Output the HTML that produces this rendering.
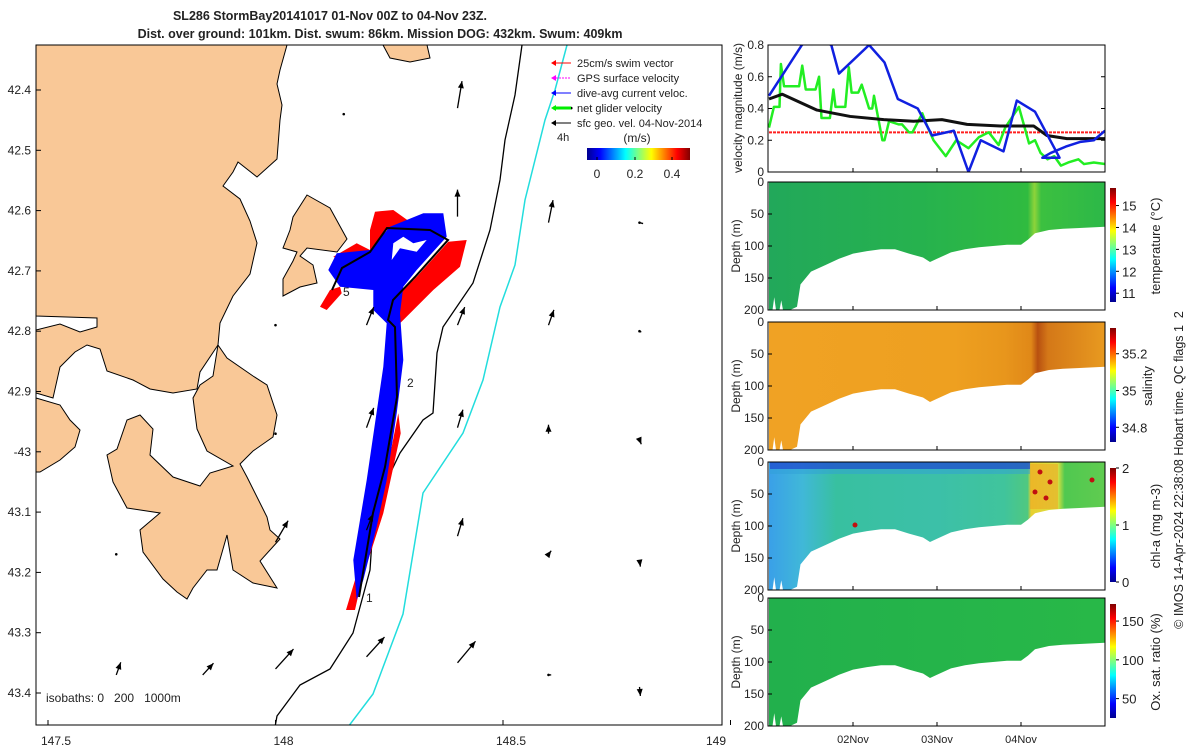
<!DOCTYPE html>
<html><head><meta charset="utf-8">
<style>
body{margin:0;background:#fff;}
svg{display:block;font-family:"Liberation Sans",sans-serif;}
text{fill:#222;}
</style></head>
<body>
<svg id="s" width="1200" height="750" viewBox="0 0 1200 750">
<defs>
<linearGradient id="jetH" x1="0" x2="1" y1="0" y2="0">
<stop offset="0" stop-color="#00008f"/><stop offset=".125" stop-color="#0000ff"/><stop offset=".375" stop-color="#00ffff"/><stop offset=".625" stop-color="#ffff00"/><stop offset=".875" stop-color="#ff0000"/><stop offset="1" stop-color="#800000"/></linearGradient>
<linearGradient id="jetV" x1="0" x2="0" y1="1" y2="0">
<stop offset="0" stop-color="#00008f"/><stop offset=".125" stop-color="#0000ff"/><stop offset=".375" stop-color="#00ffff"/><stop offset=".625" stop-color="#ffff00"/><stop offset=".875" stop-color="#ff0000"/><stop offset="1" stop-color="#800000"/></linearGradient>
<linearGradient id="gTemp" x1="0" x2="1"><stop offset="0" stop-color="#22a85a"/><stop offset=".45" stop-color="#26b24e"/><stop offset=".77" stop-color="#30bb40"/><stop offset=".79" stop-color="#8ed43a"/><stop offset=".81" stop-color="#3cc040"/><stop offset="1" stop-color="#2cb848"/></linearGradient>
<linearGradient id="gSal" x1="0" x2="1"><stop offset="0" stop-color="#f0a224"/><stop offset=".55" stop-color="#eea020"/><stop offset=".7" stop-color="#e8961c"/><stop offset=".78" stop-color="#e08818"/><stop offset=".8" stop-color="#b85010"/><stop offset=".83" stop-color="#d47818"/><stop offset="1" stop-color="#e89a20"/></linearGradient>
<linearGradient id="gChl" x1="0" x2="1"><stop offset="0" stop-color="#3aa0e8"/><stop offset=".1" stop-color="#40b8d8"/><stop offset=".2" stop-color="#38c0a0"/><stop offset=".5" stop-color="#3cc0a8"/><stop offset=".7" stop-color="#40c49c"/><stop offset=".77" stop-color="#50c880"/><stop offset=".78" stop-color="#e8d030"/><stop offset=".86" stop-color="#d8e040"/><stop offset=".88" stop-color="#50c850"/><stop offset="1" stop-color="#60cc50"/></linearGradient>
<linearGradient id="gOx" x1="0" x2="1"><stop offset="0" stop-color="#22b04c"/><stop offset="1" stop-color="#28b848"/></linearGradient>
<clipPath id="mapClip"><rect x="36" y="45" width="686" height="680"/></clipPath>
<clipPath id="velClip"><rect x="768" y="45" width="337" height="127"/></clipPath>
</defs>
<g id="root"></g>
</svg>
<script>
// ---------- data ----------
const velHours = [0,9.4,12,17.8,20,28.6,33,36.8,42.5,46.6,52.8,57,60.5,67,70.8,76,83,78.1,80.5,84.8,89,92.8,96];
const velBlue  = [0.48,0.8,0.85,0.8,0.62,0.8,0.69,0.46,0.40,0.23,0.26,0.0,0.2,0.13,0.45,0.38,0.09,0.09,0.12,0.16,0.19,0.2,0.26];
const greenHours = [0,1.4,3,3.4,4.3,8.6,9.5,10.5,13.3,14.3,15,17.4,18.4,19,21.8,22.8,23.6,25.5,26.5,28.6,29.5,30,32.4,33,34.3,37,38,40,41,43.8,45,47,50.5,53.5,57,60,62.8,65.6,67.5,71.4,74.3,76,77.6,79.6,81.5,83.4,85.5,88.4,90,92.8,96];
const velGreen = [0.28,0.41,0.41,0.68,0.54,0.54,0.67,0.52,0.52,0.6,0.34,0.34,0.52,0.41,0.41,0.66,0.5,0.5,0.55,0.4,0.4,0.48,0.2,0.2,0.32,0.3,0.3,0.25,0.25,0.37,0.3,0.2,0.1,0.2,0.15,0.22,0.25,0.17,0.28,0.41,0.18,0.2,0.12,0.08,0.1,0.04,0.06,0.08,0.05,0.06,0.05];
const blackHours = [0,3.8,13.7,23.2,32.8,41.3,49.4,56.6,66.1,75.6,79.4,85.1,96];
const velBlack = [0.46,0.49,0.39,0.35,0.33,0.32,0.33,0.30,0.29,0.29,0.23,0.21,0.21];
const swimSpeed = 0.25;
const velTicks = [0,0.2,0.4,0.6,0.8];
const dayTicks = ["02Nov","03Nov","04Nov"];
const dayTickHours = [24,48,72];
const bottomHours = [0,1,1.5,2,3,3.5,4,5,6,8,9,12,16,20,24,28,32,36,40,44,46,48,52,56,60,64,68,72,74,76,80,84,88,96];
const bottomDepth = [200,200,180,200,200,185,200,200,200,195,160,140,130,120,112,108,105,105,112,118,125,120,110,105,102,100,98,98,90,80,75,73,72,70];
const depthTicks = [0,50,100,150,200];
const tempTicks=[11,12,13,14,15], tempRange=[10.6,15.8];
const salTicks=[34.8,35,35.2], salRange=[34.72,35.34];
const chlTicks=[0,1,2], chlRange=[0,2];
const oxTicks=[50,100,150], oxRange=[25,172];
const latTicks=[42.4,42.5,42.6,42.7,42.8,42.9,43.0,43.1,43.2,43.3,43.4];
const lonTicks=[147.5,148,148.5,149];
// surface current arrows: lon, lat, u, v (m/s)
const arrows=[[148.15,42.44,0,0.01],[148.40,42.43,0.05,0.3],[148.65,42.43,0,0.0],
[148.40,42.61,0,0.3],[148.6,42.62,0.05,0.25],[148.8,42.62,0.04,-0.01],[148.99,42.64,-0.01,-0.06],
[148.0,42.79,0,0.01],[148.2,42.79,0.08,0.2],[148.4,42.79,0.08,0.2],[148.6,42.79,0.06,0.17],[148.8,42.8,0.02,-0.01],[148.99,42.81,-0.01,-0.11],
[148.0,42.97,0,0.01],[148.2,42.96,0.08,0.22],[148.4,42.96,0.06,0.2],[148.6,42.97,0,0.1],[148.8,42.98,0.02,-0.05],[148.99,42.99,0,-0.13],
[147.65,43.17,0,0],[148.0,43.15,0.14,0.24],[148.2,43.13,0.07,0.18],[148.4,43.14,0.06,0.2],[148.6,43.17,0.03,0.04],[148.8,43.18,0.01,-0.07],[148.99,43.18,0,-0.22],
[147.65,43.37,0.05,0.14],[147.84,43.37,0.12,0.13],[148.0,43.36,0.2,0.22],[148.2,43.34,0.2,0.22],[148.4,43.35,0.2,0.24],[148.6,43.37,0.03,0],[148.8,43.39,0.01,-0.1],[148.99,43.39,0,-0.24]];
// ---------- helpers ----------
const NS="http://www.w3.org/2000/svg";
const root=document.getElementById('root');
function el(tag,attrs,parent,txt){const e=document.createElementNS(NS,tag);for(const k in attrs)e.setAttribute(k,attrs[k]);if(txt!==undefined)e.textContent=txt;(parent||root).appendChild(e);return e;}
const lonX=l=>48+(l-147.5)/0.5*227.5;
const latY=l=>90+(l-42.4)/0.1*60.3;
const tX=h=>769+h*3.5;
const vY=v=>172-v/0.8*127;
// ---------- title ----------
const t1=el('text',{x:330,y:20,'text-anchor':'middle','font-size':12.5,'font-weight':'bold'},root,'SL286 StormBay20141017 01-Nov 00Z to 04-Nov 23Z.');


const t2=el('text',{x:380,y:38,'text-anchor':'middle','font-size':12.5,'font-weight':'bold'},root,'Dist. over ground: 101km. Dist. swum: 86km. Mission DOG: 432km. Swum: 409km');


// ---------- map ----------
const map=el('g',{'clip-path':'url(#mapClip)'});


const landStyle={fill:'#f9c897',stroke:'#000','stroke-width':1};
const lands=[
"36,45 287,45 280,70 277,84 282,105 280,120 277,159 257,177 238,162 233,172 223,186 240,199 250,221 257,243 250,274 233,296 220,323 218,345 200,372 197,389 173,393 150,389 133,380 107,371 100,349 87,345 75,352 60,367 53,398 36,393 36,330 60,324 80,332 97,327 97,318 36,316",
"218,345 227,358 253,376 267,385 277,415 273,437 253,451 240,464 247,477 267,517 270,530 280,539 260,561 277,588 253,583 233,570 227,535 217,570 207,570 193,588 187,599 177,592 163,579 143,552 140,530 160,513 127,508 113,482 107,455 117,449 127,420 140,415 153,429 150,455 173,477 200,486 210,473 233,466 207,451 197,429 193,398 200,385 213,376",
"36,398 60,405 70,420 80,430 75,447 60,460 40,472 36,472",
"307,195 330,208 347,239 337,252 307,248 300,256 313,265 317,283 300,287 283,296 283,279 293,261 297,252 283,248 290,230 293,217",
"383,45 427,45 430,58 410,62 390,58"];
lands.forEach((p,i)=>{const e=el('polygon',Object.assign({points:p},landStyle),map);

});
const iso200=el('polyline',{points:"522,45 515,95 505,140 500,180 490,230 473,283 443,327 437,353 433,413 423,420 400,453 387,480 377,507 372,540 370,570 360,607 353,633 330,669 300,685 277,716 275,727",fill:'none',stroke:'#000','stroke-width':1.3},map);


const iso1000=el('polyline',{points:"567,45 555,90 545,120 525,200 515,265 500,307 483,380 463,433 423,493 403,614 373,694 348,727",fill:'none',stroke:'#22dddd','stroke-width':1.5},map);


const sw=(pts)=>pts.map(p=>(p[0]/3+260).toFixed(1)+','+(p[1]/3+180).toFixed(1)).join(' ');
const reds=[[[420,430],[400,360],[470,290],[565,185],[620,180],[600,260],[520,330],[430,420]],
[[330,150],[345,95],[400,90],[470,140],[460,170],[380,150],[330,210]],
[[180,380],[210,330],[240,320],[245,340],[200,390]],
[[220,230],[290,190],[330,210],[260,250]],
[[258,1290],[285,1200],[345,1000],[395,800],[415,700],[422,760],[370,1000],[305,1200],[285,1290]]];
reds.forEach(r=>{const e=el('polygon',{points:sw(r),fill:'#ff0000'},map);

});
const blue=el('polygon',{points:sw([[290,1260],[280,1140],[320,900],[370,560],[380,430],[340,390],[340,330],[240,320],[205,270],[230,220],[330,210],[390,140],[490,100],[550,100],[560,170],[470,270],[430,320],[420,400],[430,540],[410,700],[380,900],[350,1040],[310,1200]]),fill:'#0000ff'},map);


el('polygon',{points:sw([[395,240],[400,190],[430,170],[460,190],[500,180],[470,215],[420,205]]),fill:'#fff'},map);
const track=el('polyline',{points:"359,597 373,513 385,467 397,397 395,327 388,320 393,300 415,277 448,240 430,230 387,228 370,252 342,268 332,290",fill:'none',stroke:'#000','stroke-width':2},map);


[['1',366,602],['2',407,387],['5',343,296]].forEach(d=>{const e=el('text',{x:d[1],y:d[2],'font-size':12},map,d[0]);

});
// arrows
arrows.forEach(a=>{const x=lonX(a[0]),y=latY(a[1]);const sc=90;const x2=x+a[2]*sc,y2=y-a[3]*sc;
const g=el('g',{},map);


el('line',{x1:x,y1:y,x2:x2,y2:y2,stroke:'#000','stroke-width':1.3},g);
const L=Math.hypot(x2-x,y2-y);
if(L>4){const ux=(x2-x)/L,uy=(y2-y)/L;const hx=x2-ux*7,hy=y2-uy*7;
el('polygon',{points:`${x2},${y2} ${hx-uy*3},${hy+ux*3} ${hx+uy*3},${hy-ux*3}`,fill:'#000'},g);}
else el('circle',{cx:x,cy:y,r:1.3,fill:'#000'},g);});
const mapFrame=el('rect',{x:36,y:45,width:686,height:680,fill:'none',stroke:'#000','stroke-width':1});


latTicks.forEach(l=>{const y=latY(l);el('line',{x1:36,y1:y,x2:41,y2:y,stroke:'#000'});
const e=el('text',{x:31,y:y+4,'text-anchor':'end','font-size':12},root,l===43.0?'-43':l.toFixed(1));

});
lonTicks.forEach(l=>{const x=lonX(l);el('line',{x1:x,y1:725,x2:x,y2:720,stroke:'#000'});
const e=el('text',{x:l===149?716:x+8,y:745,'text-anchor':'middle','font-size':12},root,String(l));

});
const isoLab=el('text',{x:46,y:702,'font-size':12},root,'isobaths: 0\u00a0\u00a0\u00a0200\u00a0\u00a0\u00a01000m');


// legend
const leg=[['#ff0000','25cm/s swim vector',63,1],['#ff00ff','GPS surface velocity',78,1],['#0000ff','dive-avg current veloc.',93,1],['#00ee00','net glider velocity',108,3],['#000','sfc geo. vel. 04-Nov-2014',123,1]];
leg.forEach(l=>{const g=el('g',{});


el('line',{x1:553,y1:l[2],x2:571,y2:l[2],stroke:l[0],'stroke-width':l[3],'stroke-dasharray':l[0]=='#ff00ff'?'2,1':'none'},g);
el('polygon',{points:`551,${l[2]} 556,${l[2]-3} 556,${l[2]+3}`,fill:l[0]},g);
el('text',{x:577,y:l[2]+4,'font-size':11},g,l[1]);});
el('text',{x:557,y:141,'font-size':11},root,'4h');
el('text',{x:637,y:142,'text-anchor':'middle','font-size':12},root,'(m/s)');
const mcb=el('rect',{x:587,y:148,width:103,height:12,fill:'url(#jetH)'});


[['0',597],['0.2',635],['0.4',672]].forEach(t=>{el('line',{x1:t[1],y1:160,x2:t[1],y2:157,stroke:'#000'});el('text',{x:t[1],y:178,'text-anchor':'middle','font-size':12},root,t[0]);});
// ---------- velocity panel ----------
const vg=el('g',{});


const vc=el('g',{'clip-path':'url(#velClip)'},vg);
const line=(hs,vs,col,w,dash)=>el('polyline',{points:hs.map((h,i)=>tX(h)+','+vY(vs[i])).join(' '),fill:'none',stroke:col,'stroke-width':w,'stroke-dasharray':dash||'none','stroke-linejoin':'round'},vc);
const sl=el('line',{x1:tX(0),x2:tX(96),y1:vY(swimSpeed),y2:vY(swimSpeed),stroke:'#ff2020','stroke-width':2,'stroke-dasharray':'3,1'},vc);


const lgr=line(greenHours,velGreen,'#22ee22',2.5);


const lbk=line(blackHours,velBlack,'#111',3);


const lbl=line(velHours,velBlue,'#1020e0',2.5);


el('rect',{x:768,y:45,width:337,height:127,fill:'none',stroke:'#000'},vg);
velTicks.forEach(v=>{const y=vY(v);el('line',{x1:768,x2:772,y1:y,y2:y,stroke:'#000'},vg);el('line',{x1:1105,x2:1101,y1:y,y2:y,stroke:'#000'},vg);
const e=el('text',{x:764,y:y+4,'text-anchor':'end','font-size':12},vg,v===0?'0':v.toFixed(1));

});
const vyl=el('text',{x:0,y:0,transform:'translate(742,108) rotate(-90)','text-anchor':'middle','font-size':12},vg,'velocity magnitude (m/s)');


// ---------- depth panels ----------
const panels=[
{top:182,fill:'url(#gTemp)',ticks:tempTicks,range:tempRange,label:'temperature (°C)',lx:1160,name:'temperature'},
{top:322,fill:'url(#gSal)',ticks:salTicks,range:salRange,label:'salinity',lx:1152,name:'salinity'},
{top:462,fill:'url(#gChl)',ticks:chlTicks,range:chlRange,label:'chl-a (mg m-3)',lx:1160,name:'chlorophyll'},
{top:598,fill:'url(#gOx)',ticks:oxTicks,range:oxRange,label:'Ox. sat. ratio (%)',lx:1160,name:'oxygen'}];
const H=128;
panels.forEach((p,pi)=>{
const g=el('g',{});


const dY=d=>p.top+d/200*H;
let pts=bottomHours.map((h,i)=>tX(h)+','+dY(bottomDepth[i]));
el('polygon',{points:tX(0)+','+p.top+' '+pts.join(' ')+' '+tX(96)+','+p.top,fill:p.fill},g);
if(pi===2){el('rect',{x:770,y:p.top,width:260,height:7,fill:'#2050d0',opacity:.8},g);
el('rect',{x:770,y:p.top+7,width:260,height:5,fill:'#30a0d8',opacity:.5},g);
el('rect',{x:1030,y:p.top+2,width:28,height:45,fill:'#f0a020',opacity:.5},g);
[[1040,p.top+10],[1035,p.top+30],[1046,p.top+36],[1050,p.top+20],[855,p.top+63],[1092,p.top+18]].forEach(c=>el('circle',{cx:c[0],cy:c[1],r:2.5,fill:'#c01010'},g));}
el('rect',{x:768,y:p.top,width:337,height:H,fill:'none',stroke:'#000'},g);
depthTicks.forEach(d=>{const y=dY(d);el('line',{x1:768,x2:772,y1:y,y2:y,stroke:'#000'},g);
const e=el('text',{x:764,y:y+4,'text-anchor':'end','font-size':12},g,String(d));

});
const yl=el('text',{x:0,y:0,transform:`translate(740,${p.top+H/2}) rotate(-90)`,'text-anchor':'middle','font-size':12},g,'Depth (m)');


const cb=el('rect',{x:1110,y:p.top+6,width:6,height:H-14,fill:'url(#jetV)'},g);


p.ticks.forEach(t=>{const y=p.top+6+(H-14)*(1-(t-p.range[0])/(p.range[1]-p.range[0]));
el('line',{x1:1116,x2:1119,y1:y,y2:y,stroke:'#000'},g);
el('text',{x:1122,y:y+5,'font-size':13},g,String(t));});
const cl=el('text',{x:0,y:0,transform:`translate(${p.lx},${p.top+H/2}) rotate(-90)`,'text-anchor':'middle','font-size':13},g,p.label);


dayTickHours.forEach(h=>{el('line',{x1:tX(h),x2:tX(h),y1:p.top+H,y2:p.top+H-4,stroke:'#000'},g);});
});
dayTickHours.forEach((h,i)=>{const e=el('text',{x:tX(h),y:743,'text-anchor':'middle','font-size':11},root,dayTicks[i]);

});
dayTickHours.forEach(h=>el('line',{x1:tX(h),x2:tX(h),y1:172,y2:168,stroke:'#000'}));
const cp=el('text',{x:0,y:0,transform:'translate(1183,470) rotate(-90)','text-anchor':'middle','font-size':12.5},root,'© IMOS 14-Apr-2024 22:38:08 Hobart time. QC flags 1\u00a0\u00a02');


</script>
</body></html>
